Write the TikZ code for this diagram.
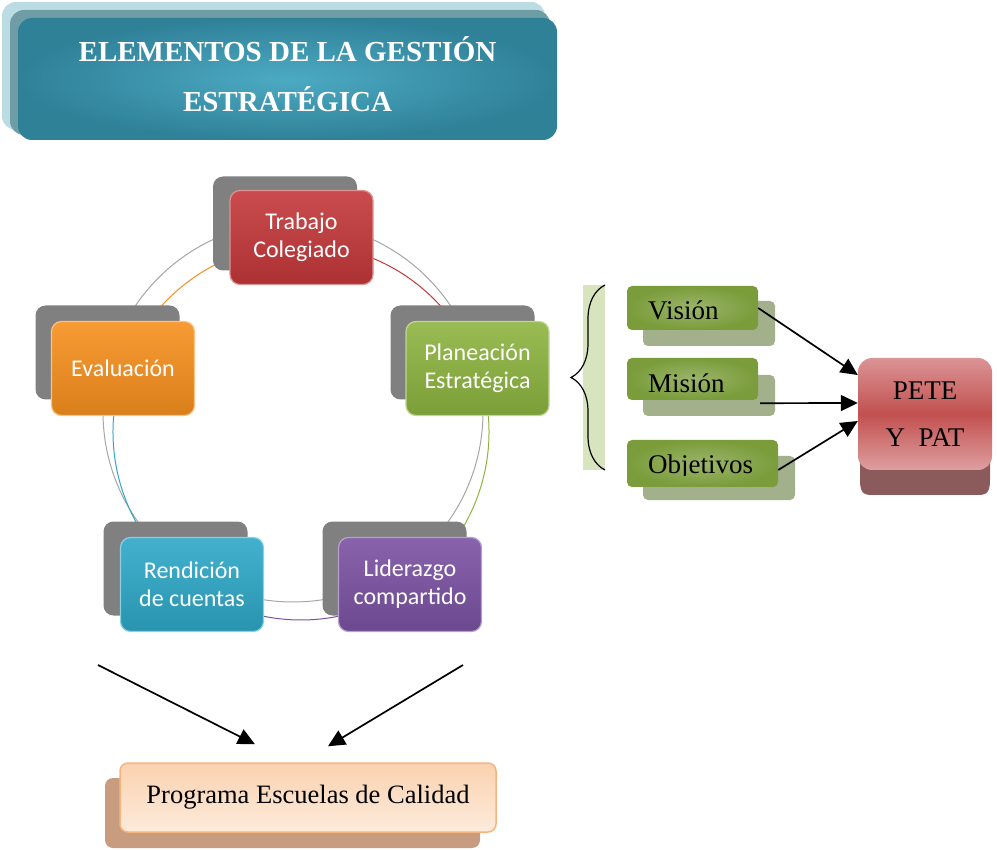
\documentclass[tikz,border=0pt]{standalone}
\usepackage{fontspec}
\setmainfont{Liberation Serif}
\newfontfamily\carl{Carlito}
\usetikzlibrary{arrows.meta,decorations.pathreplacing,shadings}
\definecolor{shgray}{HTML}{808080}
\definecolor{ringgray}{HTML}{A6A6A6}
\definecolor{tred}{HTML}{C4383A}
\definecolor{tgreen}{HTML}{8DB440}
\definecolor{torange}{HTML}{F7901E}
\definecolor{tcyan}{HTML}{2EA8C8}
\definecolor{tpurple}{HTML}{7B52A3}
\definecolor{titlelight}{HTML}{4CAAC3}
\definecolor{titledark}{HTML}{2F8198}
\definecolor{titleback}{HTML}{BCDCE4}
\definecolor{titlemid}{HTML}{6F9DA6}
\definecolor{sgreen}{HTML}{7A9C3A}
\definecolor{sgreenshade}{HTML}{A2B08C}
\definecolor{bracefill}{HTML}{D8E4BE}
\definecolor{petetop}{HTML}{DB9496}
\definecolor{petemid}{HTML}{C2504F}
\definecolor{petebase}{HTML}{8B5A5B}
\definecolor{pecborder}{HTML}{F8B47E}
\definecolor{pecfill}{HTML}{FAD2B0}
\definecolor{pecshadow}{HTML}{C79C7F}
\tikzset{
  shadowbox/.style={rounded corners=10pt, fill=shgray, minimum width=144pt, minimum height=94pt},
  cyclebox/.style={rounded corners=10pt, minimum width=143pt, minimum height=94pt,
     top color=#1!90!white, bottom color=#1!88!black, draw=#1!55!white, line width=1.2pt,
     text=white, align=center, font=\carl\fontsize{24}{28}\selectfont},
  smallshadow/.style={rounded corners=5pt, fill=sgreenshade},
  smallbox/.style={rounded corners=5pt, inner color=sgreen!75!white, outer color=sgreen},
  smalltext/.style={anchor=base west, font=\fontsize{27}{30}\selectfont, inner sep=0pt},
  arr/.style={line width=1.7pt, -{Triangle[length=17pt,width=16pt]}},
  ring/.style={line width=1pt}
}
\begin{document}
\begin{tikzpicture}[x=1pt,y=-1pt]
\useasboundingbox (0,0) rectangle (997,850);
% title
\node[rounded corners=14pt, fill=titleback, minimum width=543pt, minimum height=128pt] (tback) at (273.5,66) {};
\node[rounded corners=14pt, fill=titlemid, minimum width=540pt, minimum height=125pt] (tmid) at (280,72.5) {};
\node[rounded corners=14pt, inner color=titlelight, outer color=titledark, minimum width=539pt, minimum height=122pt] (title) at (287.5,79) {};
\node[text=white, align=center, font=\bfseries\fontsize{29}{50}\selectfont] (titletext) at (287.5,74)
  {ELEMENTOS DE LA GESTIÓN\\ESTRATÉGICA};
% rings
\draw[ringgray, ring] (293,412) circle[radius=190];
\draw[tred, ring] (301,432) ++(-90:188) arc[start angle=-90, end angle=-20, radius=188];
\draw[tgreen, ring] (301,432) ++(-20:188) arc[start angle=-20, end angle=54, radius=188];
\draw[tpurple, ring] (301,432) ++(54:188) arc[start angle=54, end angle=126, radius=188];
\draw[tcyan, ring] (301,432) ++(126:188) arc[start angle=126, end angle=200, radius=188];
\draw[torange, ring] (301,432) ++(200:188) arc[start angle=200, end angle=270, radius=188];
% cycle nodes
\node[shadowbox] (s1) at (285,223.5) {};
\node[cyclebox=tred] (trabajo) at (301.5,237.5) {Trabajo\\Colegiado};
\node[shadowbox] (s2) at (462.5,352.5) {};
\node[cyclebox=tgreen] (planeacion) at (477.5,368.5) {Planeación\\Estratégica};
\node[shadowbox] (s3) at (107.5,352.5) {};
\node[cyclebox=torange] (evaluacion) at (123,368.5) {Evaluación};
\node[shadowbox] (s4) at (175.5,568.5) {};
\node[cyclebox=tcyan] (rendicion) at (192,584.5) {Rendición\\de cuentas};
\node[shadowbox] (s5) at (394.5,568.5) {};
\node[cyclebox=tpurple] (liderazgo) at (410,584.5) {Liderazgo\\compartido};
% brace
\fill[bracefill] (583,285) rectangle (605,470);
\draw[line width=1.2pt, decorate, decoration={brace, mirror, amplitude=34pt}] (605,285) -- (605,470);
% small boxes
\node[smallshadow, minimum width=132pt, minimum height=45pt] (vs) at (709,323.5) {};
\node[smallbox, minimum width=131pt, minimum height=44pt] (vision) at (692.5,308) {};
\node[smalltext] (tv) at (648,320) {Visión};
\node[smallshadow, minimum width=132pt, minimum height=41pt] (ms) at (709,395.5) {};
\node[smallbox, minimum width=131pt, minimum height=42pt] (mision) at (692.5,379) {};
\begin{scope}
\clip (620,350) rectangle (800,393);
\node[smalltext] (tm) at (648,393) {Misión};
\end{scope}
\node[smallshadow, minimum width=152pt, minimum height=44pt] (os) at (719,478) {};
\node[smallbox, minimum width=151pt, minimum height=47pt] (objetivos) at (702.5,463.5) {};
\begin{scope}
\clip (620,430) rectangle (800,476);
\node[smalltext] (to) at (648,474) {Objetivos};
\end{scope}
% PETE
\fill[petebase] (860,440) -- (990,440) -- (990,480) .. controls (990,495) and (985,495) .. (975,495) -- (875,495) .. controls (865,495) and (860,495) .. (860,480) -- cycle;
\node[rounded corners=14pt, top color=petetop, bottom color=petetop!90!white, middle color=petemid,
  minimum width=134pt, minimum height=112pt, align=center, font=\fontsize{27}{47}\selectfont] (pete) at (925,414)
  {PETE\\Y\ \ PAT};
% arrows to PETE
\draw[arr] (vision.east) -- ([yshift=39pt]pete.west);
\draw[arr] ([shift={(2pt,-3pt)}]mision.south east) -- ([yshift=11pt]pete.west);
\draw[arr] ([yshift=-6.5pt]objetivos.east) -- ([yshift=-7pt]pete.west);
% Programa
\node[rounded corners=8pt, fill=pecshadow, minimum width=375pt, minimum height=70pt] (pecs) at (292.5,813) {};
\node[rounded corners=8pt, draw=pecborder, line width=1.5pt, top color=pecfill, bottom color=pecfill!45!white,
  minimum width=376pt, minimum height=69pt, font=\fontsize{26.5}{30}\selectfont] (pec) at (308,797.5)
  {Programa Escuelas de Calidad};
\coordinate (la) at (98,665);
\coordinate (ra) at (463,665);
\draw[arr] (la) -- ([shift={(-53pt,18pt)}]pec.north);
\draw[arr] (ra) -- ([shift={(20pt,16pt)}]pec.north);
\end{tikzpicture}
\end{document}
